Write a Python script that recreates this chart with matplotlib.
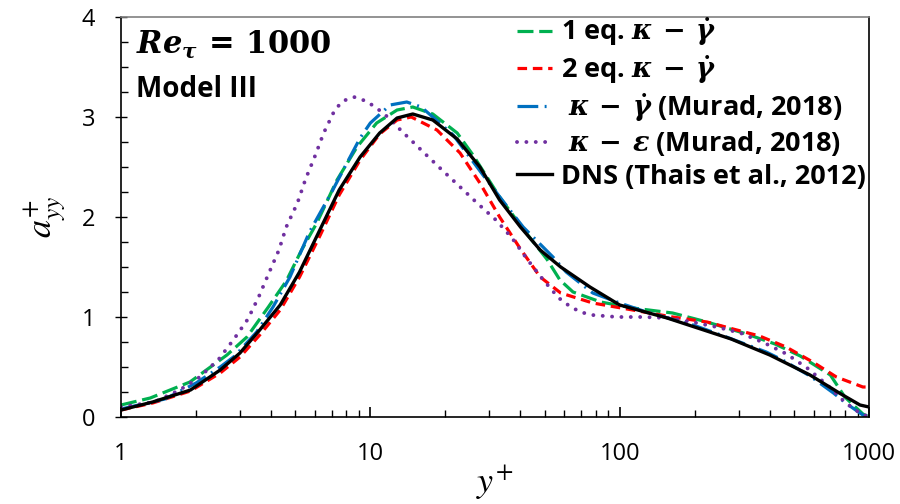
import numpy as np
import matplotlib
matplotlib.use("Agg")
import matplotlib.pyplot as plt
from matplotlib.ticker import MultipleLocator, LogLocator, NullFormatter, FixedLocator

plt.rcParams['font.family'] = ['Open Sans', 'DejaVu Sans']
plt.rcParams['mathtext.fontset'] = 'custom'
plt.rcParams['mathtext.rm'] = 'DejaVu Serif:bold'
plt.rcParams['mathtext.it'] = 'DejaVu Serif:italic:bold'
plt.rcParams['mathtext.bf'] = 'DejaVu Serif:bold'

# DNS (Thais et al., 2012)
dns_x = [1, 1.34, 1.9, 2.5, 3, 3.6, 4.35, 5.2, 6.3, 7.5, 9.1, 10.9, 12.8, 14.8, 17.8,
         22.3, 27.5, 33, 40, 48, 58, 76, 100, 155, 280, 400, 580, 760, 920, 1000]
dns_a = [0.07, 0.15, 0.27, 0.47, 0.64, 0.87, 1.12, 1.45, 1.88, 2.27, 2.6, 2.84, 2.99, 3.03, 2.97,
         2.78, 2.5, 2.17, 1.9, 1.67, 1.5, 1.3, 1.12, 0.99, 0.78, 0.62, 0.42, 0.24, 0.12, 0.10]

# 1 eq. kappa - gamma_dot
eq1_x = [1, 1.31, 1.89, 2.66, 3.2, 3.9, 4.6, 5.3, 6.1, 7.35, 8.84, 10.6, 12.8, 14.8, 17.8,
         22.3, 25.8, 33, 41, 51, 57.6, 65, 84, 113, 163, 224, 323, 420, 530, 700, 800, 945, 1000]
eq1_a = [0.12, 0.19, 0.35, 0.62, 0.80, 1.10, 1.36, 1.67, 1.94, 2.37, 2.70, 2.94, 3.07, 3.10, 3.03,
         2.84, 2.62, 2.2, 1.88, 1.58, 1.37, 1.25, 1.15, 1.09, 1.04, 0.95, 0.83, 0.73, 0.61, 0.42, 0.20, 0.03, 0.0]

# 2 eq. kappa - gamma_dot
eq2_x = [1, 1.34, 1.9, 2.5, 3, 3.6, 4.35, 5.2, 6.3, 7.5, 9.1, 10.9, 12.8, 14.6, 18.5,
         22.9, 27.5, 33, 40, 48, 58, 78, 107, 163, 224, 285, 364, 465, 595, 740, 945, 1000]
eq2_a = [0.07, 0.14, 0.26, 0.44, 0.60, 0.82, 1.07, 1.40, 1.82, 2.22, 2.57, 2.83, 2.97, 3.0, 2.87,
         2.64, 2.34, 2.0, 1.68, 1.40, 1.24, 1.14, 1.08, 1.0, 0.95, 0.88, 0.81, 0.70, 0.55, 0.40, 0.30, 0.30]

# kappa - gamma_dot (Murad, 2018)
kg_x = [1, 1.5, 2.0, 2.5, 2.86, 3.5, 4.07, 4.76, 5.7, 7.0, 7.9, 9.1, 10, 12, 14, 16, 17.8,
        21.5, 28.3, 35, 41, 54, 61, 78, 100, 128, 197, 268, 387, 450, 580, 720, 816, 945, 1000]
kg_a = [0.08, 0.18, 0.34, 0.50, 0.61, 0.85, 1.10, 1.40, 1.85, 2.25, 2.50, 2.79, 2.94, 3.12, 3.15, 3.10, 3.0,
        2.82, 2.42, 2.12, 1.90, 1.60, 1.45, 1.24, 1.14, 1.05, 0.92, 0.80, 0.65, 0.57, 0.41, 0.24, 0.13, 0.02, 0.0]

# kappa - epsilon (Murad, 2018)
ke_x = [1, 1.36, 1.72, 2.07, 2.47, 2.84, 3.23, 3.58, 3.92, 4.3, 4.6, 5.1, 5.5, 6.0, 6.5, 7.2, 7.76,
        8.6, 9.6, 10.6, 11.6, 13.6, 16.3, 19.2, 22.7, 26.8, 31.9, 37, 42.5, 49.4, 57, 62.9, 69.5,
        77.5, 97.7, 124, 156, 195, 245, 305, 381, 467, 565, 680, 800, 880, 960, 1000]
ke_a = [0.10, 0.15, 0.27, 0.40, 0.58, 0.78, 0.98, 1.21, 1.44, 1.67, 1.90, 2.14, 2.38, 2.61, 2.84, 3.07, 3.16,
        3.20, 3.16, 3.09, 3.01, 2.84, 2.65, 2.48, 2.31, 2.14, 1.97, 1.79, 1.58, 1.37, 1.19, 1.11, 1.05,
        1.02, 1.0, 1.0, 0.99, 0.95, 0.90, 0.84, 0.74, 0.63, 0.49, 0.32, 0.15, 0.07, 0.02, 0.0]

x_ticks = [1, 10, 100, 1000]
x_tick_labels = ['1', '10', '100', '1000']
y_ticks = [0, 1, 2, 3, 4]

fig = plt.figure(figsize=(9, 5.04), dpi=100)
ax = fig.add_axes([121 / 900, 87 / 504, 748 / 900, 400 / 504])

lw = 2.3
ax.plot(eq1_x, eq1_a, color='#00B050', lw=lw, dashes=(5.0, 1.8),
        label='1 eq. $\\kappa\\,-\\,\\dot{\\gamma}$')
ax.plot(eq2_x, eq2_a, color='#FF0000', lw=lw, dashes=(3.0, 1.8),
        label='2 eq. $\\kappa\\,-\\,\\dot{\\gamma}$')
ax.plot(kg_x, kg_a, color='#0070C0', lw=lw, dashes=(6.5, 2.0, 0.6, 2.0),
        label=' $\\kappa\\,-\\,\\dot{\\gamma}$ (Murad, 2018)')
ax.plot(ke_x, ke_a, color='#7030A0', lw=2.8, dashes=(0.01, 2.4), dash_capstyle='round',
        label=' $\\kappa\\,-\\,\\varepsilon$ (Murad, 2018)')
ax.plot(dns_x, dns_a, color='black', lw=2.4, label='DNS (Thais et al., 2012)')

ax.set_xscale('log')
ax.set_xlim(1, 1000)
ax.set_ylim(0, 4)
ax.xaxis.set_major_locator(FixedLocator(x_ticks))
ax.set_xticklabels(x_tick_labels)
ax.xaxis.set_minor_locator(LogLocator(base=10, subs=np.arange(2, 10)))
ax.xaxis.set_minor_formatter(NullFormatter())
ax.set_yticks(y_ticks)
ax.yaxis.set_minor_locator(MultipleLocator(0.25))

ax.tick_params(axis='x', which='major', direction='in', length=7, width=1.2, pad=18, labelsize=17)
ax.tick_params(axis='x', which='minor', direction='in', length=5, width=1)
ax.tick_params(axis='y', which='major', direction='inout', length=9, width=1, pad=14, labelsize=17)
ax.tick_params(axis='y', which='minor', direction='in', length=5, width=1)

for side in ['left', 'bottom', 'right']:
    ax.spines[side].set_color('black')
    ax.spines[side].set_linewidth(1.2)
ax.spines['top'].set_color('#808080')
ax.spines['top'].set_linewidth(1.2)

ax.set_xlabel('$y^{+}$', fontsize=26, math_fontfamily='stix', labelpad=-2)
ax.set_ylabel('$a^{+}_{yy}$', fontsize=26, math_fontfamily='stix', labelpad=9)

ax.text(0.02, 0.93, '$Re_{\\tau}\\,=\\,1000$', transform=ax.transAxes, fontsize=22,
        va='center', ha='left')
ax.text(0.02, 0.82, 'Model III', transform=ax.transAxes, fontsize=20, fontweight='bold',
        va='center', ha='left')

ax.legend(loc='upper right', bbox_to_anchor=(1.0, 1.01), frameon=False,
          prop={'weight': 'bold', 'size': 19.5}, handlelength=1.3, handletextpad=0.35,
          labelspacing=0.2, borderaxespad=0.0, borderpad=0.1)

fig.savefig('out.png', dpi=100)
